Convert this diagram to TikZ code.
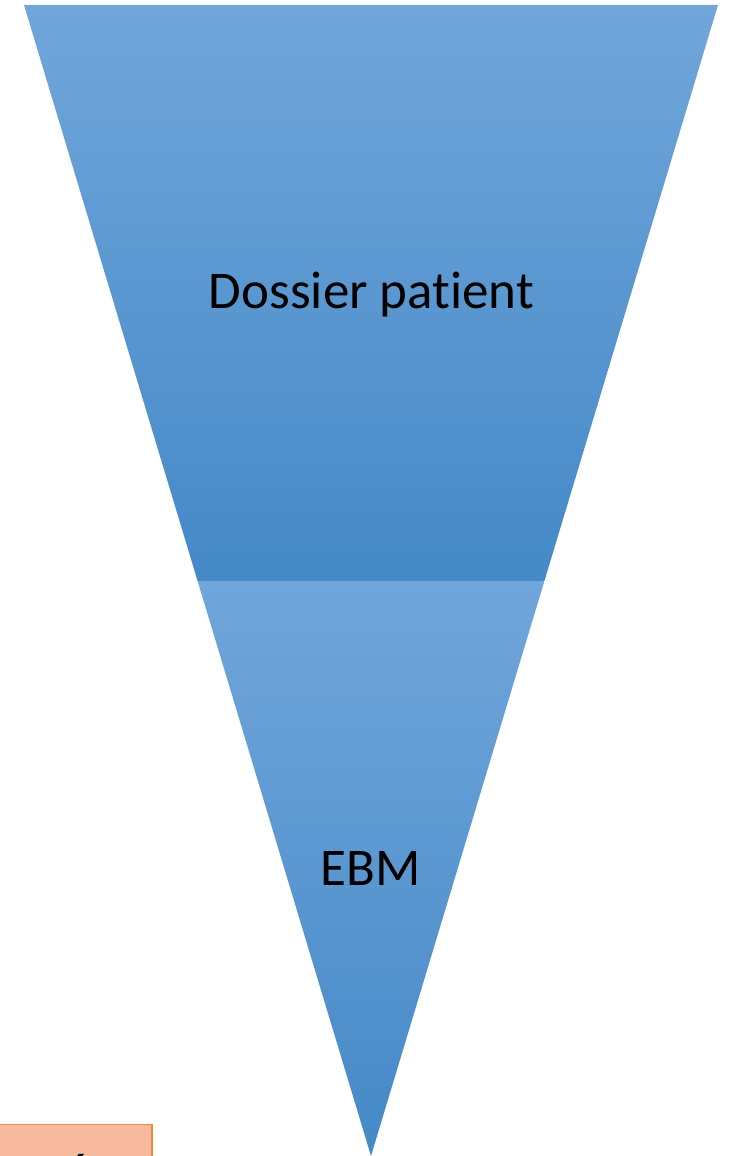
\documentclass[tikz,border=0pt]{standalone}
\usepackage{fontspec}
\setmainfont[Ligatures=NoCommon]{Carlito}
\definecolor{segtop}{HTML}{70A6DA}
\definecolor{segbot}{HTML}{4589C8}
\definecolor{boxfill}{HTML}{F8BBA0}
\definecolor{boxline}{HTML}{F08838}
\tikzset{
  segment/.style={top color=segtop, bottom color=segbot, draw=none},
  label/.style={font=\fontsize{53}{60}\selectfont, text=black, inner sep=0pt, anchor=base},
}
\begin{document}
\begin{tikzpicture}[x=1pt,y=-1pt]
\useasboundingbox (0,0) rectangle (728,1156);
\clip (0,0) rectangle (728,1156);
\coordinate (tl) at (24,5);
\coordinate (tr) at (718,5);
\coordinate (ml) at (197.6,581);
\coordinate (mr) at (544.4,581);
\coordinate (apex) at (371,1156);
\path[segment] (tl) -- (tr) -- (mr) -- (ml) -- cycle;
\path[segment] (ml) -- (mr) -- (apex) -- cycle;
\node[label] (dossier) at (371.5,308) {Dossier patient};
\node[label] (ebm) at (370.5,885) {EBM};
\draw[fill=boxfill, draw=boxline, line width=1.2pt] (-5,1124.5) rectangle (152,1200);
\node[label] (hidden) at (78,1190) {é};
\end{tikzpicture}
\end{document}
